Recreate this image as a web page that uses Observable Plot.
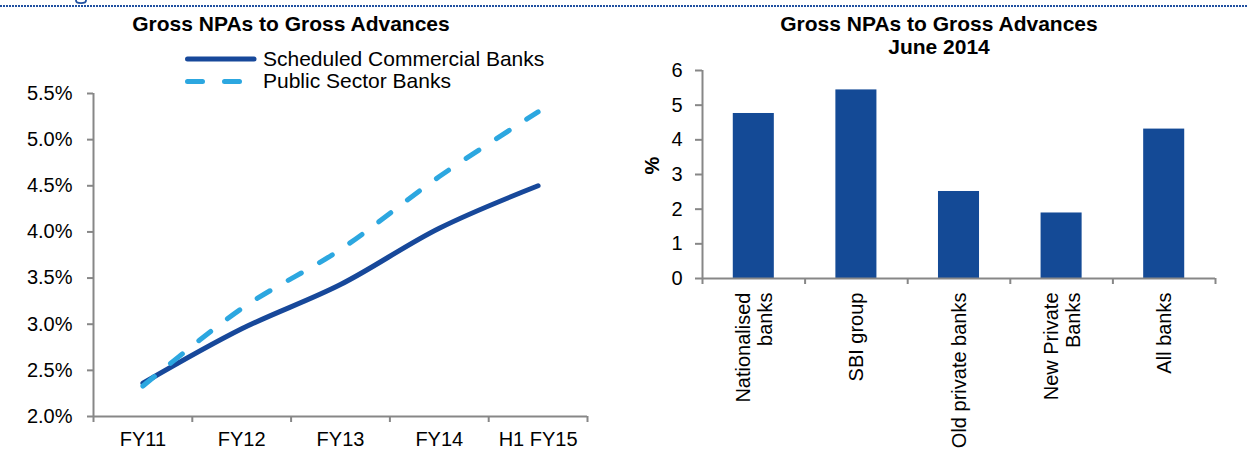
<!DOCTYPE html>
<html>
<head>
<meta charset="utf-8">
<script src="https://cdn.jsdelivr.net/npm/d3@7"></script>
<script src="https://cdn.jsdelivr.net/npm/@observablehq/plot@0.6"></script>
<style>
html, body { margin: 0; padding: 0; background: #fff; }
#wrap { position: relative; width: 1248px; height: 462px; overflow: hidden; font-family: "Liberation Sans", Arial, sans-serif; color: #000; }
.abs { position: absolute; }
.title { font-weight: bold; font-size: 21px; line-height: 23px; text-align: center; white-space: nowrap; }
#dots { left: 0; top: 5px; width: 1248px; height: 2px; background: repeating-linear-gradient(to right, #2050a0 0 1.7px, transparent 1.7px 3px); }
</style>
</head>
<body>
<div id="wrap">
  <div id="dots" class="abs"></div>
  <div id="leftPlot" class="abs" style="left:0;top:0;"></div>
  <div id="rightPlot" class="abs" style="left:620px;top:0;"></div>
  <div class="abs title" style="left:0;top:12px;width:582px;">Gross NPAs to Gross Advances</div>
  <div class="abs title" style="left:739px;top:12px;width:400px;">Gross NPAs to Gross Advances<br>June 2014</div>
  <svg id="legend" class="abs" style="left:0;top:0;overflow:visible" width="620" height="100"></svg>
</div>
<script>
// ---- Data ----
const periods = ["FY11", "FY12", "FY13", "FY14", "H1 FY15"];
const scheduledCommercialBanks = [2.36, 2.95, 3.43, 4.04, 4.50];
const publicSectorBanks = [2.33, 3.17, 3.81, 4.60, 5.30];
const pctTicks = [2.0, 2.5, 3.0, 3.5, 4.0, 4.5, 5.0, 5.5];
const seriesNames = ["Scheduled Commercial Banks", "Public Sector Banks"];

const bankGroups = ["Nationalised\nbanks", "SBI group", "Old private banks", "New Private\nBanks", "All banks"];
const npaJune2014 = [4.76, 5.44, 2.51, 1.89, 4.31];
const barTicks = [0, 1, 2, 3, 4, 5, 6];

// ---- Styles ----
const FONT = '"Liberation Sans", Arial, sans-serif';
const AXIS = "#878787";
const C_SCB = "#17489a";
const C_PSB = "#2ca7e0";
const C_BAR = "#144a96";

// ---- Left chart ----
const scbData = periods.map((p, i) => ({i, v: scheduledCommercialBanks[i]}));
const psbData = periods.map((p, i) => ({i, v: publicSectorBanks[i]}));
const bounds = d3.range(periods.length + 1).map(k => k - 0.5);

const left = Plot.plot({
  width: 620, height: 462,
  marginLeft: 93, marginRight: 33, marginTop: 93, marginBottom: 46,
  style: {fontFamily: FONT, fontSize: "20px", color: "#000", background: "transparent", overflow: "visible"},
  x: {type: "linear", domain: [-0.5, periods.length - 0.5], label: null},
  y: {domain: [2, 5.5], label: null},
  marks: [
    Plot.ruleX([-0.5], {stroke: AXIS, strokeWidth: 2}),
    Plot.ruleY([2], {stroke: AXIS, strokeWidth: 2}),
    Plot.axisY({ticks: pctTicks, tickFormat: d => d.toFixed(1) + "%", tickSize: 6, tickPadding: 15, stroke: AXIS, strokeWidth: 2, label: null}),
    Plot.axisX({ticks: bounds, tickFormat: () => "", tickSize: 6, stroke: AXIS, strokeWidth: 2, label: null}),
    Plot.axisX({ticks: d3.range(periods.length), tickFormat: i => periods[i], tickSize: 0, tickPadding: 15, label: null}),
    Plot.line(scbData, {x: "i", y: "v", stroke: C_SCB, strokeWidth: 5, curve: "catmull-rom", strokeLinecap: "round"}),
    Plot.line(psbData, {x: "i", y: "v", stroke: C_PSB, strokeWidth: 5, curve: "catmull-rom", strokeDasharray: "15,21", strokeLinecap: "round"})
  ]
});
document.getElementById("leftPlot").appendChild(left);

// ---- Right chart ----
const barData = bankGroups.map((g, i) => ({i, label: g, v: npaJune2014[i]}));
const bBounds = d3.range(bankGroups.length + 1).map(k => k - 0.5);

const right = Plot.plot({
  width: 628, height: 462,
  marginLeft: 82, marginRight: 33, marginTop: 70, marginBottom: 184,
  style: {fontFamily: FONT, fontSize: "20px", color: "#000", background: "transparent", overflow: "visible"},
  x: {type: "linear", domain: [-0.5, bankGroups.length - 0.5], label: null},
  y: {domain: [0, 6], label: null},
  marks: [
    Plot.rectY(barData, {x1: d => d.i - 0.2, x2: d => d.i + 0.2, y: "v", fill: C_BAR}),
    Plot.ruleX([-0.5], {stroke: AXIS, strokeWidth: 2}),
    Plot.ruleY([0], {stroke: AXIS, strokeWidth: 2}),
    Plot.axisY({ticks: barTicks, tickFormat: d => String(d), tickSize: 7, tickPadding: 13, stroke: AXIS, strokeWidth: 2, label: null}),
    Plot.axisX({ticks: bBounds, tickFormat: () => "", tickSize: 6, stroke: AXIS, strokeWidth: 2, label: null}),
    Plot.text(barData, {x: "i", text: "label", frameAnchor: "bottom", rotate: -90, textAnchor: "end", lineAnchor: "middle", lineHeight: 1.1, dy: 14, fontSize: 20}),
    Plot.text(["%"], {frameAnchor: "left", dx: -50, rotate: -90, fontWeight: "bold", fontSize: 20})
  ]
});
document.getElementById("rightPlot").appendChild(right);

// ---- Legend (left chart) ----
const lg = d3.select("#legend");
// clipped descender of a heading above the page edge (decorative shape)
lg.append("ellipse").attr("cx", 81).attr("cy", 0.5).attr("rx", 5).attr("ry", 2.6)
  .attr("fill", "none").attr("stroke", "#2050a0").attr("stroke-width", 1.8);
const legendItems = [
  {name: seriesNames[0], color: C_SCB, dash: null},
  {name: seriesNames[1], color: C_PSB, dash: "15,22"}
];
legendItems.forEach((d, k) => {
  const yl = 59 + k * 22.6;
  const ln = lg.append("line")
    .attr("x1", 187.5).attr("x2", d.dash ? 240 : 254)
    .attr("y1", yl).attr("y2", yl)
    .attr("stroke", d.color).attr("stroke-width", 5).attr("stroke-linecap", "round");
  if (d.dash) ln.attr("stroke-dasharray", d.dash);
  lg.append("text").attr("x", 263).attr("y", yl + 6.8)
    .attr("font-family", FONT).attr("font-size", 21).attr("fill", "#000").text(d.name);
});
</script>
</body>
</html>
